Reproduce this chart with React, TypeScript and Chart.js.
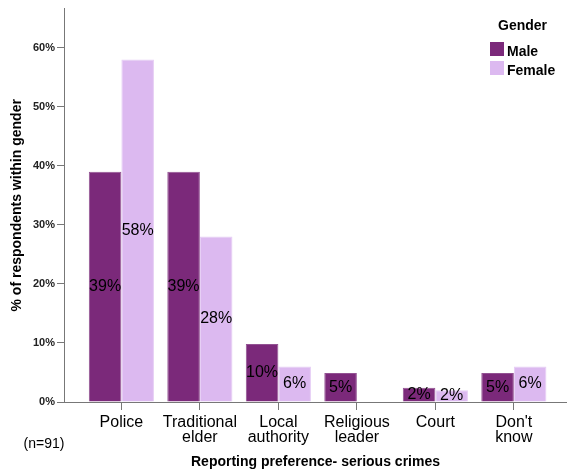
import React, { useEffect, useRef } from 'react';
import { Chart, registerables } from 'chart.js';

Chart.register(...registerables);

const categories: string[][] = [
  ['Police'],
  ['Traditional', 'elder'],
  ['Local', 'authority'],
  ['Religious', 'leader'],
  ['Court'],
  ["Don't", 'know'],
];
const maleValues = [39.0, 39.0, 9.8, 4.9, 2.4, 4.9];
const femaleValues = [58.0, 28.0, 6.0, 0, 2.0, 6.0];
const yTickValues = [0, 10, 20, 30, 40, 50, 60];
const seriesNames = ['Male', 'Female'];
const seriesColors = ['#7b297a', '#dcb9f0'];
const seriesBorders = ['#935293', '#e6cdf5'];
const legendTitle = 'Gender';
const xTitle = 'Reporting preference- serious crimes';
const yTitle = '% of respondents within gender';
const noteText = '(n=91)';

const FONT = '"Liberation Sans", Arial, sans-serif';

const valueLabels = {
  id: 'valueLabels',
  afterDatasetsDraw(chart: any) {
    const ctx = chart.ctx;
    ctx.save();
    ctx.font = `16px ${FONT}`;
    ctx.fillStyle = '#000';
    ctx.textAlign = 'center';
    ctx.textBaseline = 'middle';
    chart.data.datasets.forEach((ds: any, di: number) => {
      const meta = chart.getDatasetMeta(di);
      meta.data.forEach((el: any, i: number) => {
        const v = ds.data[i].y;
        if (!v) return;
        const props = el.getProps(['x', 'y', 'base'], true);
        ctx.fillText(Math.round(v) + '%', props.x, (props.y + props.base) / 2);
      });
    });
    ctx.restore();
  },
};

const customLegend = {
  id: 'customLegend',
  afterDraw(chart: any) {
    const ctx = chart.ctx;
    ctx.save();
    ctx.fillStyle = '#000';
    ctx.font = `bold 14px ${FONT}`;
    ctx.textAlign = 'left';
    ctx.textBaseline = 'alphabetic';
    ctx.fillText(legendTitle, 498, 30);
    chart.data.datasets.forEach((ds: any, i: number) => {
      const y = 42 + i * 19;
      ctx.fillStyle = ds.backgroundColor;
      ctx.fillRect(490, y, 14, 14);
      ctx.fillStyle = '#000';
      ctx.fillText(ds.label, 507, y + 14);
    });
    ctx.font = `14px ${FONT}`;
    ctx.textAlign = 'center';
    ctx.textBaseline = 'middle';
    ctx.fillText(noteText, 44, 444);
    ctx.restore();
  },
};

export default function App() {
  const ref = useRef<HTMLCanvasElement | null>(null);
  useEffect(() => {
    if (!ref.current) return;
    const chart = new Chart(ref.current, {
      type: 'bar',
      data: {
        datasets: [
          {
            label: seriesNames[0],
            data: maleValues.map((v, i) => ({ x: i + 1, y: v })),
            backgroundColor: seriesColors[0],
            borderColor: seriesBorders[0],
            borderWidth: { top: 1, left: 1, right: 1, bottom: 0 },
            categoryPercentage: 0.83,
            barPercentage: 1,
          },
          {
            label: seriesNames[1],
            data: femaleValues.map((v, i) => ({ x: i + 1, y: v })),
            backgroundColor: seriesColors[1],
            borderColor: seriesBorders[1],
            borderWidth: { top: 1, left: 1, right: 1, bottom: 0 },
            categoryPercentage: 0.83,
            barPercentage: 1,
          },
        ],
      },
      options: {
        animation: false,
        responsive: false,
        maintainAspectRatio: false,
        layout: { padding: { top: 8, right: 0, left: 0, bottom: 0 } },
        plugins: { legend: { display: false }, tooltip: { enabled: false } },
        scales: {
          x: {
            type: 'linear',
            offset: false,
            min: 0.269,
            max: 6.677,
            afterBuildTicks: (scale: any) => {
              scale.ticks = categories.map((_, i) => ({ value: i + 1 }));
            },
            afterFit: (scale: any) => {
              scale.height = 70;
            },
            grid: { offset: false, drawOnChartArea: false, drawTicks: true, tickLength: 8, color: '#777' },
            border: { display: true, color: '#777' },
            ticks: {
              autoSkip: false,
              maxRotation: 0,
              padding: 5,
              color: '#000',
              font: { family: FONT, size: 16, lineHeight: 0.95 },
              callback: (value: any) => categories[Math.round(value) - 1] ?? '',
            },
            title: {
              display: true,
              text: xTitle,
              color: '#000',
              font: { family: FONT, size: 14, weight: 'bold' },
              padding: { top: 0, bottom: 1 },
            },
          },
          y: {
            min: 0,
            max: 66.6,
            afterBuildTicks: (scale: any) => {
              scale.ticks = yTickValues.map((v) => ({ value: v }));
            },
            afterFit: (scale: any) => {
              scale.width = 64;
            },
            grid: { drawOnChartArea: false, drawTicks: true, tickLength: 7, color: '#777' },
            border: { display: true, color: '#777' },
            ticks: {
              padding: 2,
              color: '#222',
              font: { family: FONT, size: 11, weight: 'bold' },
              callback: (value: any) => value + '%',
            },
            title: {
              display: true,
              text: yTitle,
              color: '#000',
              font: { family: FONT, size: 14, weight: 'bold' },
              padding: { top: 9, bottom: 0 },
            },
          },
        },
      },
      plugins: [valueLabels, customLegend],
    } as any);
    return () => chart.destroy();
  }, []);
  return (
    <div style={{ position: 'fixed', left: 0, top: 0, width: 567, height: 472, background: '#fff' }}>
      <canvas ref={ref} width={567} height={472} style={{ width: 567, height: 472, display: 'block' }} />
    </div>
  );
}
